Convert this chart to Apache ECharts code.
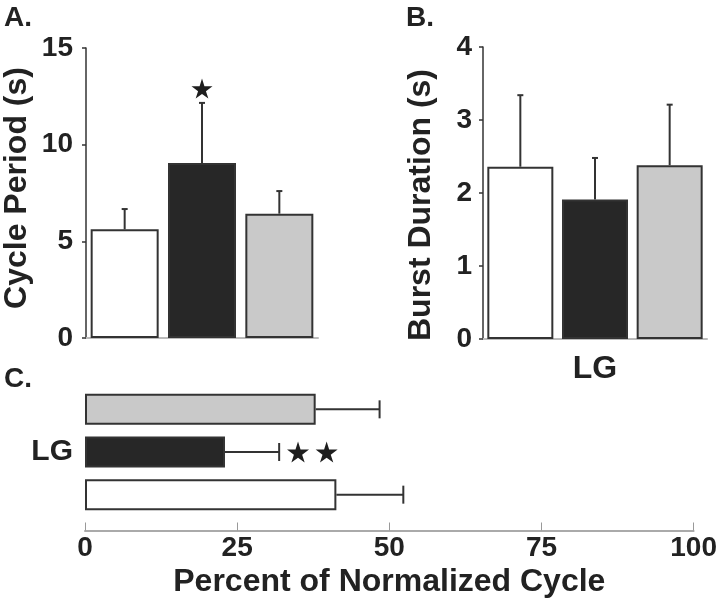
<!DOCTYPE html>
<html>
<head>
<meta charset="utf-8">
<script src="https://cdn.jsdelivr.net/npm/echarts@6/dist/echarts.min.js"></script>
<style>html,body{margin:0;padding:0;background:#fff}#c{width:720px;height:606px}</style>
</head>
<body>
<div id="c"></div>
<script>
// ---- data ----
const groups = ['Control', 'LG', 'Recovery'];
const fills = ['#ffffff', '#272727', '#c9c9c9'];
// Panel A: cycle period (s)
const cycleMean = [5.62, 9.05, 6.43];
const cycleSD = [1.05, 3.11, 1.17];
const cycleStars = [[1, 12.9]];
// Panel B: burst duration (s)
const burstMean = [2.36, 1.91, 2.38];
const burstSD = [0.98, 0.57, 0.83];
// Panel C: percent of normalized cycle (bottom to top: Control, LG, Recovery)
const pctMean = [41.3, 23.0, 37.9];
const pctSD = [11.0, 8.9, 10.5];
const pctStars = [[35.0, 1], [39.7, 1]];
const ticksA = [0, 5, 10, 15];
const ticksB = [0, 1, 2, 3, 4];
const ticksC = [0, 25, 50, 75, 100];

const FONT = 'Liberation Sans';
const DARK = '#333333';
const STAR = 'path://M50,0 L61,35 L98,35 L68,57 L79,91 L50,70 L21,91 L32,57 L2,35 L39,35 Z';

function barData(means) {
  return means.map((v, i) => ({ value: v, itemStyle: { color: fills[i] } }));
}
function errData(means, sds) { return means.map((v, i) => [i, v, sds[i]]); }

function vErr(params, api) {
  const c = api.value(0), m = api.value(1), s = api.value(2);
  const p0 = api.coord([c, m]), p1 = api.coord([c, m + s]);
  const st = { stroke: DARK, lineWidth: 2 };
  return { type: 'group', children: [
    { type: 'line', shape: { x1: p0[0], y1: p0[1], x2: p1[0], y2: p1[1] }, style: st },
    { type: 'line', shape: { x1: p1[0] - 3, y1: p1[1], x2: p1[0] + 3, y2: p1[1] }, style: st }
  ]};
}
function hErr(params, api) {
  const m = api.value(0), c = api.value(1), s = api.value(2);
  const p0 = api.coord([m, c]), p1 = api.coord([m + s, c]);
  const st = { stroke: DARK, lineWidth: 2 };
  return { type: 'group', children: [
    { type: 'line', shape: { x1: p0[0], y1: p0[1], x2: p1[0], y2: p1[1] }, style: st },
    { type: 'line', shape: { x1: p1[0], y1: p1[1] - 9, x2: p1[0], y2: p1[1] + 9 }, style: st }
  ]};
}

const tickLabel = { fontFamily: FONT, fontWeight: 'bold', fontSize: 28, color: '#222' };
const titleStyle = { fontFamily: FONT, fontWeight: 'bold', fontSize: 32, fill: '#222' };

const chart = echarts.init(document.getElementById('c'), null, { renderer: 'canvas' });
chart.setOption({
  backgroundColor: '#fff',
  animation: false,
  grid: [
    { left: 86, top: 48, width: 232, height: 290 },
    { left: 483, top: 47, width: 224, height: 292 },
    { left: 85, top: 388, width: 610, height: 128 }
  ],
  xAxis: [
    { gridIndex: 0, type: 'category', data: groups, axisLabel: { show: false }, axisTick: { show: false },
      axisLine: { lineStyle: { color: '#bbbbbb', width: 2 } } },
    { gridIndex: 1, type: 'category', data: groups, axisLabel: { show: false }, axisTick: { show: false },
      axisLine: { lineStyle: { color: '#bbbbbb', width: 2 } },
      name: 'LG', nameLocation: 'middle', nameGap: 14,
      nameTextStyle: { fontFamily: FONT, fontWeight: 'bold', fontSize: 32, color: '#222', verticalAlign: 'top' } },
    { gridIndex: 2, type: 'value', min: 0, max: 100, interval: 25, offset: 14.5,
      splitLine: { show: false },
      axisLine: { show: true, onZero: false, lineStyle: { color: '#aaaaaa', width: 2 } },
      axisTick: { show: true, inside: true, length: 8, lineStyle: { color: '#999999', width: 1 } },
      axisLabel: Object.assign({ margin: 4, formatter: v => ticksC.includes(v) ? String(v) : '' }, tickLabel),
      name: 'Percent of Normalized Cycle', nameLocation: 'middle', nameGap: 36,
      nameTextStyle: { fontFamily: FONT, fontWeight: 'bold', fontSize: 32, color: '#222', verticalAlign: 'top' } }
  ],
  yAxis: [
    { gridIndex: 0, type: 'value', min: 0, max: 15, interval: 5, splitLine: { show: false },
      axisLine: { show: true, lineStyle: { color: DARK, width: 1.5 } },
      axisTick: { show: true, length: 4, lineStyle: { color: DARK, width: 1.5 } },
      axisLabel: Object.assign({ margin: 13, formatter: v => ticksA.includes(v) ? String(v) : '' }, tickLabel) },
    { gridIndex: 1, type: 'value', min: 0, max: 4, interval: 1, splitLine: { show: false },
      axisLine: { show: true, lineStyle: { color: DARK, width: 1.5 } },
      axisTick: { show: true, length: 4, lineStyle: { color: DARK, width: 1.5 } },
      axisLabel: Object.assign({ margin: 11, formatter: v => ticksB.includes(v) ? String(v) : '' }, tickLabel) },
    { gridIndex: 2, type: 'category', data: groups, axisLine: { show: false }, axisTick: { show: false },
      axisLabel: { show: false },
      name: 'LG', nameLocation: 'middle', nameGap: 12, nameRotate: 0,
      nameTextStyle: { fontFamily: FONT, fontWeight: 'bold', fontSize: 30, color: '#222', align: 'right', verticalAlign: 'middle' } }
  ],
  series: [
    { type: 'bar', xAxisIndex: 0, yAxisIndex: 0, barWidth: 68, data: barData(cycleMean),
      itemStyle: { borderColor: DARK, borderWidth: 2 } },
    { type: 'custom', xAxisIndex: 0, yAxisIndex: 0, renderItem: vErr, data: errData(cycleMean, cycleSD), z: 3 },
    { type: 'scatter', xAxisIndex: 0, yAxisIndex: 0, symbol: STAR, symbolSize: [21, 20], data: cycleStars,
      itemStyle: { color: '#1e1e1e', opacity: 1 } },
    { type: 'bar', xAxisIndex: 1, yAxisIndex: 1, barWidth: 66, data: barData(burstMean),
      itemStyle: { borderColor: DARK, borderWidth: 2 } },
    { type: 'custom', xAxisIndex: 1, yAxisIndex: 1, renderItem: vErr, data: errData(burstMean, burstSD), z: 3 },
    { type: 'bar', xAxisIndex: 2, yAxisIndex: 2, barWidth: 31, data: barData(pctMean),
      itemStyle: { borderColor: DARK, borderWidth: 2 } },
    { type: 'custom', xAxisIndex: 2, yAxisIndex: 2, renderItem: hErr,
      data: pctMean.map((v, i) => [v, i, pctSD[i]]), z: 3 },
    { type: 'scatter', xAxisIndex: 2, yAxisIndex: 2, symbol: STAR, symbolSize: [22, 21], data: pctStars,
      itemStyle: { color: '#1e1e1e', opacity: 1 } }
  ],
  graphic: [
    { type: 'text', left: 4, top: 4, style: Object.assign({ text: 'A.' }, titleStyle, { fontSize: 28 }) },
    { type: 'text', left: 406, top: 4, style: Object.assign({ text: 'B.' }, titleStyle, { fontSize: 28 }) },
    { type: 'text', left: 4, top: 365, style: Object.assign({ text: 'C.' }, titleStyle, { fontSize: 28 }) },
    { type: 'text', x: 17, y: 188, rotation: Math.PI / 2,
      style: Object.assign({ text: 'Cycle Period (s)', textAlign: 'center', textVerticalAlign: 'middle' }, titleStyle) },
    { type: 'text', x: 421, y: 205, rotation: Math.PI / 2,
      style: Object.assign({ text: 'Burst Duration (s)', textAlign: 'center', textVerticalAlign: 'middle' }, titleStyle) }
  ]
});
</script>
</body>
</html>
